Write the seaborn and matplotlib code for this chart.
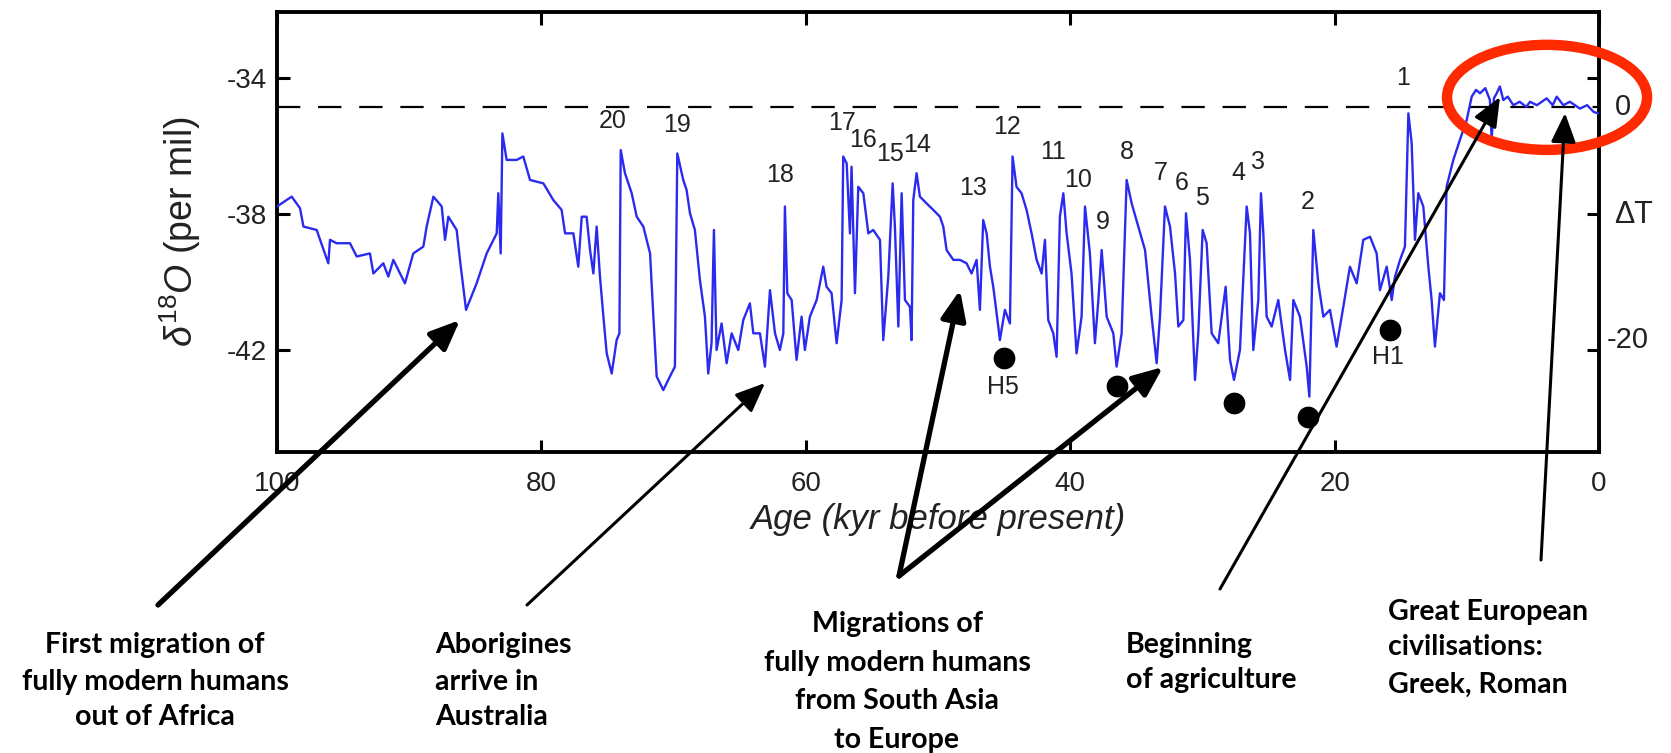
import matplotlib
matplotlib.use("Agg")
import matplotlib.pyplot as plt
import matplotlib.transforms as mtrans
from matplotlib.patches import Ellipse
import seaborn as sns
import pandas as pd

# ---------------- data ----------------
AGE = [100.0, 98.89, 98.26, 98.0, 97.0, 96.12, 95.99, 95.49, 94.48, 93.97, 92.97, 92.71, 91.96, 91.58,
       91.2, 90.32, 89.69, 88.93, 88.68, 88.17, 87.54, 87.29, 87.04, 86.41, 86.16, 85.70, 84.9, 84.14,
       83.38, 83.26, 83.08, 82.95, 82.63, 81.87, 81.37, 80.86, 79.85, 79.1, 78.47, 78.21, 77.58, 77.21,
       76.95, 76.58, 76.32, 76.07, 75.82, 75.57, 75.31, 75.06, 74.68, 74.31, 74.1, 74.0, 73.68, 73.17,
       72.79, 72.29, 71.78, 71.53, 71.28, 70.78, 70.28, 69.9, 69.72, 69.27, 69.02, 68.76, 68.39, 68.01,
       67.63, 67.38, 67.13, 66.95, 66.75, 66.37, 65.99, 65.61, 65.11, 64.73, 64.23, 63.97, 63.47, 63.09,
       62.71, 62.33, 61.96, 61.7, 61.58, 61.4, 61.07, 60.7, 60.32, 60.07, 59.69, 59.18, 58.68, 58.43,
       58.05, 57.67, 57.29, 57.17, 56.91, 56.66, 56.54, 56.28, 56.03, 55.65, 55.27, 54.9, 54.39, 54.14,
       53.76, 53.43, 53.26, 53.0, 52.75, 52.5, 52.12, 52.0, 51.87, 51.62, 51.37, 50.86, 50.36, 49.85,
       49.6, 49.35, 48.84, 48.34, 47.84, 47.46, 47.08, 46.83, 46.58, 46.32, 46.07, 45.82, 45.44, 45.32,
       44.94, 44.56, 44.36, 44.06, 43.68, 43.3, 42.92, 42.54, 42.16, 41.91, 41.66, 41.28, 41.03, 40.78,
       40.52, 40.27, 39.9, 39.52, 39.14, 38.88, 38.51, 38.13, 37.87, 37.62, 37.24, 36.74, 36.49, 36.11,
       35.73, 35.35, 34.85, 34.34, 34.09, 33.84, 33.46, 33.21, 32.83, 32.45, 32.07, 31.82, 31.44, 31.24,
       30.94, 30.56, 30.31, 29.98, 29.68, 29.3, 28.8, 28.24, 27.91, 27.61, 27.16, 26.65, 26.4, 26.15,
       25.77, 25.57, 25.39, 25.14, 24.76, 24.26, 23.75, 23.37, 23.12, 22.62, 22.11, 21.91, 21.61, 21.23,
       20.85, 20.35, 19.85, 19.34, 18.84, 18.33, 17.83, 17.32, 16.82, 16.57, 16.06, 15.68, 15.43, 15.05,
       14.68, 14.42, 14.17, 13.92, 13.67, 13.29, 12.91, 12.66, 12.41, 12.03, 11.73, 11.53, 11.02, 10.52,
       10.01, 9.63, 9.3, 9.0, 8.6, 8.25, 8.12, 7.95, 7.74, 7.5, 7.24, 6.9, 6.48, 6.0, 5.5, 5.22, 4.7,
       3.96, 3.5, 3.2, 2.7, 2.2, 1.44, 0.9, 0.4, 0.0]
D18O = [-37.78, -37.49, -37.83, -38.37, -38.47, -39.45, -38.76, -38.86, -38.86, -39.25, -39.16, -39.75,
        -39.45, -39.84, -39.35, -40.04, -39.16, -38.96, -38.37, -37.49, -37.78, -38.76, -38.08, -38.47,
        -39.35, -40.82, -40.04, -39.16, -38.57, -37.39, -39.16, -35.63, -36.41, -36.41, -36.31, -37.0,
        -37.1, -37.59, -37.88, -38.57, -38.57, -39.55, -38.08, -38.08, -39.06, -39.75, -38.37, -39.84,
        -41.02, -42.1, -42.69, -41.71, -41.51, -36.12, -36.8, -37.39, -38.08, -38.37, -39.16, -41.02,
        -42.78, -43.18, -42.78, -42.49, -36.22, -37.0, -37.29, -37.98, -38.47, -39.94, -41.02, -42.69,
        -41.8, -38.47, -42.0, -41.22, -42.39, -41.51, -42.0, -41.12, -40.63, -41.51, -41.51, -42.49,
        -40.24, -41.51, -42.0, -41.51, -37.78, -40.33, -40.53, -42.29, -41.02, -42.0, -41.02, -40.53,
        -39.55, -40.14, -40.33, -41.8, -40.53, -36.31, -36.51, -38.57, -36.61, -40.33, -37.2, -37.39,
        -38.57, -38.47, -38.76, -41.71, -39.84, -37.1, -38.37, -41.31, -37.39, -40.53, -40.73, -41.71,
        -37.59, -36.8, -37.49, -37.69, -37.88, -38.08, -38.37, -39.06, -39.35, -39.35, -39.45, -39.75,
        -39.35, -40.82, -38.18, -38.57, -39.55, -40.14, -41.31, -41.71, -40.82, -41.22, -36.31, -37.2,
        -37.39, -37.88, -38.57, -39.35, -39.75, -38.76, -41.12, -41.51, -42.2, -38.08, -37.39, -38.57,
        -39.75, -42.1, -41.02, -37.78, -39.16, -41.8, -40.53, -39.06, -41.02, -41.51, -42.49, -41.51,
        -37.0, -37.69, -38.37, -39.06, -40.04, -41.02, -42.39, -41.02, -37.78, -38.37, -39.75, -41.31,
        -41.12, -37.98, -39.35, -42.88, -41.51, -38.47, -38.86, -41.51, -41.8, -40.14, -42.29, -42.88,
        -42.0, -37.78, -38.57, -42.0, -40.53, -37.39, -38.57, -41.02, -41.31, -40.53, -42.0, -42.88,
        -40.53, -41.02, -42.49, -43.37, -38.47, -40.04, -41.02, -40.82, -41.9, -40.73, -39.55, -40.04,
        -38.76, -38.67, -39.16, -40.24, -39.55, -40.53, -39.84, -39.35, -38.96, -35.04, -35.92, -38.76,
        -37.39, -37.78, -39.55, -40.53, -41.9, -40.33, -40.53, -37.2, -36.41, -35.82, -35.24, -34.55,
        -34.35, -34.45, -34.3, -34.65, -35.82, -34.6, -34.45, -34.25, -34.65, -34.55, -34.8, -34.7,
        -34.85, -34.7, -34.8, -34.6, -34.8, -34.55, -34.8, -34.7, -34.9, -34.8, -35.0, -35.05]

EVENT_LABELS = ["20", "19", "18", "17", "16", "15", "14", "13", "12", "11", "10",
                "9", "8", "7", "6", "5", "4", "3", "2", "1", "H5", "H1"]
EVENT_AGE = [74.58, 69.74, 61.95, 57.26, 55.67, 53.63, 51.59, 47.35, 44.78, 41.3, 39.41,
             37.52, 35.7, 33.13, 31.54, 30.03, 27.31, 25.79, 22.01, 14.83, 45.08, 15.96]
EVENT_D18O = [-35.26, -35.38, -36.85, -35.32, -35.82, -36.24, -35.97, -37.24, -35.44, -36.18, -37.0,
              -38.24, -36.18, -36.79, -37.09, -37.53, -36.79, -36.47, -37.65, -34.0, -43.09, -42.21]

HEINRICH_AGE = [45.0, 36.46, 27.61, 22.0, 15.81]
HEINRICH_D18O = [-42.24, -43.06, -43.56, -43.97, -41.41]

PRESENT_LEVEL = -34.85          # dashed line (Delta T = 0)
XTICKS = [100, 80, 60, 40, 20, 0]
YTICKS = [-34, -38, -42]

# annotation texts (lines) and arrows (image pixel coords, origin top-left)
NOTES = [
    (["First migration of", "fully modern humans", "out of Africa"], 155, [645, 682, 717], "center"),
    (["Aborigines", "arrive in", "Australia"], 435, [645, 682, 717], "left"),
    (["Migrations of", "fully modern humans", "from South Asia", "to Europe"], 897, [624, 663, 701, 740], "center"),
    (["Beginning", "of agriculture"], 1126, [645, 680], "left"),
    (["Great European", "civilisations:", "Greek, Roman"], 1388, [612, 647, 685], "left"),
]
ARROWS = [  # tail, head, width(pt)
    ((158, 605), (460, 320), 3.8),
    ((527, 605), (765, 383), 2.2),
    ((899, 576), (960, 290), 3.8),
    ((899, 576), (1163, 367), 3.8),
    ((1220, 589), (1500, 97), 2.2),
    ((1541, 560), (1565, 113), 2.2),
]

W, H = 1671, 753
sns.set_style("ticks")
plt.rcParams["font.family"] = ["Liberation Sans", "DejaVu Sans"]
plt.rcParams["mathtext.fontset"] = "custom"
plt.rcParams["mathtext.rm"] = "Liberation Sans"
plt.rcParams["mathtext.it"] = "Liberation Sans:italic"

fig = plt.figure(figsize=(W / 100, H / 100), dpi=100)
L, R, T, B = 277, 1599, 12, 452
ax = fig.add_axes([L / W, 1 - B / H, (R - L) / W, (B - T) / H])

df = pd.DataFrame({"age": AGE, "d18o": D18O})
sns.lineplot(data=df, x="age", y="d18o", ax=ax, color="#2b2bf0", lw=1.7,
             estimator=None, sort=False, zorder=3)
hd = pd.DataFrame({"age": HEINRICH_AGE, "d18o": HEINRICH_D18O})
sns.scatterplot(data=hd, x="age", y="d18o", ax=ax, color="black", s=210,
                edgecolor="black", zorder=4)

ax.axhline(PRESENT_LEVEL, color="black", lw=1.6, dashes=(10.5, 8), zorder=2)

ax.set_xlim(100, 0)
ax.set_ylim(-45.0, -32.06)
ax.set_xticks(XTICKS)
ax.set_xticklabels([str(t) for t in XTICKS])
ax.set_yticks(YTICKS)
ax.set_yticklabels([str(t) for t in YTICKS])
ax.tick_params(direction="in", length=9, width=2.2, top=True, right=True,
               labelsize=20, colors="black", labelcolor="#222222")
ax.tick_params(axis="x", pad=14)
ax.tick_params(axis="y", pad=7)
for s in ax.spines.values():
    s.set_linewidth(2.8)
    s.set_color("black")

ax.set_xlabel("Age (kyr before present)", fontsize=25, fontstyle="italic", color="#222222")
ax.xaxis.set_label_coords(0.5, -0.115)
ax.set_ylabel(r"$\delta^{18}O$ (per mil)", fontsize=27, color="#222222")
ax.yaxis.set_label_coords(-0.056, 0.5)

# right-hand Delta T scale labels
bt = mtrans.blended_transform_factory(ax.transAxes, ax.transData)
ax.text(1.018, PRESENT_LEVEL, "0", transform=bt, ha="center", va="center", fontsize=21, color="#222222")
ax.text(1.026, -38.03, "ΔT", transform=bt, ha="center", va="center", fontsize=22, color="#222222")
ax.text(1.022, -41.7, "-20", transform=bt, ha="center", va="center", fontsize=21, color="#222222")

for lab, a, d in zip(EVENT_LABELS, EVENT_AGE, EVENT_D18O):
    ax.text(a, d, lab, ha="center", va="center", fontsize=18, color="#222222", zorder=5)

ell = Ellipse((3.93, -34.57), width=15.13, height=3.09, fill=False, ec="#ff2a00",
              lw=7.5, clip_on=False, zorder=6)
ax.add_patch(ell)

for lines, x, ys, ha in NOTES:
    for line, y in zip(lines, ys):
        fig.text(x / W, 1 - (y + 8) / H, line, ha=ha, va="baseline", fontsize=20.5,
                 fontweight="bold", family=["Lato", "DejaVu Sans"], color="black")

for (tx, ty), (hx, hy), lw in ARROWS:
    ax.annotate("", xy=(hx, H - hy), xytext=(tx, H - ty), xycoords="figure pixels",
                textcoords="figure pixels", annotation_clip=False,
                arrowprops=dict(arrowstyle="-|>,head_length=0.9,head_width=0.38", lw=lw,
                                color="black", shrinkA=0, shrinkB=0, mutation_scale=20),
                zorder=7)

fig.savefig("out.png", dpi=100)
